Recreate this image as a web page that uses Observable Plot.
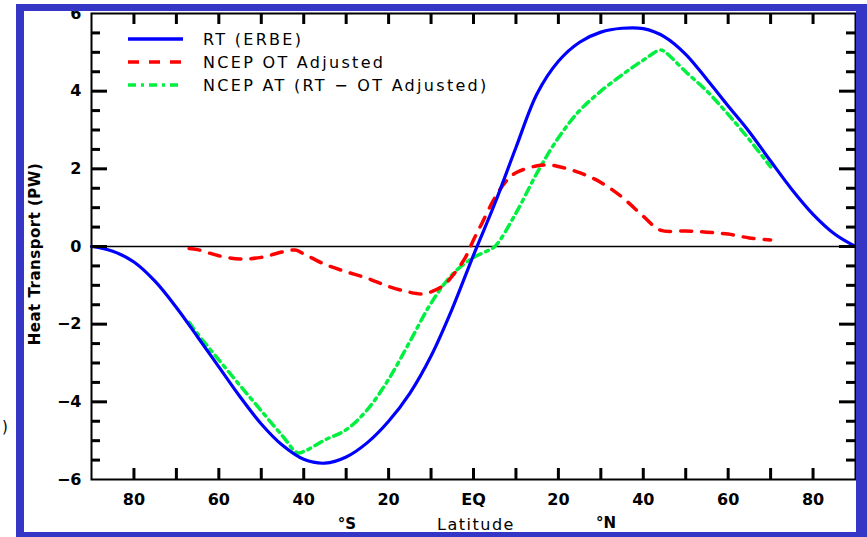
<!DOCTYPE html>
<html><head><meta charset="utf-8">
<script src="https://cdn.jsdelivr.net/npm/d3@7"></script>
<script src="https://cdn.jsdelivr.net/npm/@observablehq/plot@0.6"></script>
<style>
body{margin:0;background:#fff;}
#chart{position:relative;width:867px;height:537px;overflow:hidden;}
#chart svg{display:block;}
</style>
</head><body><div id="chart"></div>
<script>
// RT (ERBE)
const rtLat = [-90,-85,-80,-75,-70,-65,-60,-55,-50,-45,-40,-35,-30,-25,-20,-15,-10,-5,0,5,10,15,20,25,30,35,40,45,50,55,60,65,70,75,80,85,90];
const rtVal = [0,-0.12,-0.4,-0.9,-1.57,-2.33,-3.1,-3.87,-4.57,-5.12,-5.48,-5.58,-5.42,-5.05,-4.5,-3.78,-2.82,-1.6,-0.22,1.1,2.55,3.94,4.77,5.26,5.52,5.62,5.61,5.4,4.95,4.3,3.62,2.95,2.2,1.47,0.83,0.33,0];
// NCEP OT Adjusted
const otLat = [-67,-65,-60,-55,-50,-45,-42,-40,-35,-30,-25,-20,-15,-12,-10,-7,-5,-2,0,2,5,8,10,15,18,20,25,30,35,40,44,50,55,60,65,70];
const otVal = [-0.05,-0.08,-0.24,-0.32,-0.28,-0.14,-0.09,-0.19,-0.46,-0.65,-0.82,-1.03,-1.18,-1.22,-1.17,-1.0,-0.76,-0.3,0.17,0.6,1.25,1.72,1.9,2.08,2.1,2.06,1.9,1.65,1.27,0.78,0.42,0.4,0.37,0.32,0.22,0.17];
// NCEP AT (RT - OT Adjusted)
const atLat = [-67,-65,-60,-55,-50,-45,-41.5,-40,-35,-30,-25,-20,-15,-10,-5,0,2.5,5,10,15,20,25,30,35,40,44,45,50,55,60,65,70];
const atVal = [-1.95,-2.25,-2.92,-3.58,-4.23,-4.88,-5.31,-5.28,-4.98,-4.72,-4.2,-3.42,-2.45,-1.46,-0.72,-0.28,-0.15,0.0,0.86,1.9,2.8,3.5,4.0,4.42,4.8,5.06,5.02,4.5,4.0,3.4,2.75,2.05];

const seriesNames = ["RT (ERBE)", "NCEP OT Adjusted", "NCEP AT (RT \u2212 OT Adjusted)"];
const seriesColors = ["#0000ff", "#ff0000", "#00f040"];
const seriesDash = [null, "11,10", "8,5,3,5"];

const xTicks = [-80,-70,-60,-50,-40,-30,-20,-10,0,10,20,30,40,50,60,70,80];
const xLabelTicks = [-80,-60,-40,-20,0,20,40,60,80];
const yMajor = [-4,-2,0,2,4];
const yMinor = [-5.5,-5,-4.5,-3.5,-3,-2.5,-1.5,-1,-0.5,0.5,1,1.5,2.5,3,3.5,4.5,5,5.5];
const yLabels = [-6,-4,-2,0,2,4,6];

const rt = rtLat.map((x,i)=>({x, y: rtVal[i]}));
const ot = otLat.map((x,i)=>({x, y: otVal[i]}));
const at = atLat.map((x,i)=>({x, y: atVal[i]}));

const xFmt = d => d === 0 ? "EQ" : String(Math.abs(d));
const yFmt = d => d < 0 ? "\u2212" + (-d) : String(d);
const tickFont = {fontSize: 16, fontWeight: "bold", fontFamily: "DejaVu Sans"};

const W = 867, H = 537, mL = 91, mR = 12, mT = 13, mB = 58;
const innerW = W - mL - mR, innerH = H - mT - mB;
const tickStyle = {stroke: "#000", strokeWidth: 3};

const chart = Plot.plot({
  width: W, height: H,
  marginLeft: mL, marginRight: mR, marginTop: mT, marginBottom: mB,
  style: {fontFamily: "DejaVu Sans", background: "transparent", overflow: "visible"},
  x: {domain: [-90, 90]},
  y: {domain: [-6, 6]},
  marks: [
    Plot.ruleY([0], {stroke: "black", strokeWidth: 1.6}),
    Plot.line(at, {x: "x", y: "y", stroke: seriesColors[2], strokeWidth: 3.5, strokeDasharray: seriesDash[2], curve: "catmull-rom"}),
    Plot.line(ot, {x: "x", y: "y", stroke: seriesColors[1], strokeWidth: 3.5, strokeDasharray: seriesDash[1], curve: "catmull-rom"}),
    Plot.line(rt, {x: "x", y: "y", stroke: seriesColors[0], strokeWidth: 3.2, curve: "catmull-rom"}),
    // inward ticks: bottom, top, left, right
    Plot.ruleX(xTicks, {x: d => d, insetTop: innerH - 11, ...tickStyle}),
    Plot.ruleX(xTicks, {x: d => d, insetBottom: innerH - 11, ...tickStyle}),
    Plot.ruleY(yMajor, {y: d => d, insetRight: innerW - 16, ...tickStyle}),
    Plot.ruleY(yMinor, {y: d => d, insetRight: innerW - 9, ...tickStyle}),
    Plot.ruleY(yMajor, {y: d => d, insetLeft: innerW - 16, ...tickStyle}),
    Plot.ruleY(yMinor, {y: d => d, insetLeft: innerW - 9, ...tickStyle}),
    Plot.axisX({anchor: "bottom", ticks: xLabelTicks, tickSize: 0, tickPadding: 14, tickFormat: xFmt, label: null, ...tickFont, fill: "black"}),
    Plot.axisY({anchor: "left", ticks: yLabels, tickSize: 0, tickPadding: 10, tickFormat: yFmt, label: null, ...tickFont, fill: "black"}),
    Plot.frame({stroke: "black", strokeWidth: 2})
  ]
});
document.getElementById("chart").appendChild(chart);

const svg = d3.select(chart);

// Outer blue frame
const border = "#3636c6";
const deco = svg.append("g");
deco.append("rect").attr("x", 16).attr("y", 4).attr("width", 851).attr("height", 7).attr("fill", border);
deco.append("rect").attr("x", 16).attr("y", 4).attr("width", 8).attr("height", 533).attr("fill", border);
deco.append("rect").attr("x", 856).attr("y", 4).attr("width", 11).attr("height", 533).attr("fill", border);
deco.append("rect").attr("x", 16).attr("y", 532).attr("width", 851).attr("height", 5).attr("fill", border);

// Legend
const leg = svg.append("g").attr("font-family", "DejaVu Sans").attr("font-size", 16)
  .attr("letter-spacing", "2.3px").attr("text-anchor", "start");
seriesNames.forEach((name, i) => {
  const yy = 39 + i * 23;
  leg.append("line").attr("x1", 128).attr("x2", 183).attr("y1", yy).attr("y2", yy)
    .attr("stroke", seriesColors[i]).attr("stroke-width", 3.5)
    .attr("stroke-dasharray", seriesDash[i]);
  leg.append("text").attr("x", 203).attr("y", yy).attr("dy", "0.35em").attr("fill", "black").text(name);
});

// Axis titles
const titles = svg.append("g").attr("font-family", "DejaVu Sans").attr("fill", "black");
titles.append("text").attr("transform", "translate(40,254) rotate(-90)").attr("text-anchor", "middle")
  .attr("font-size", 15).attr("font-weight", "bold").attr("letter-spacing", "0.5px").text("Heat Transport (PW)");
titles.append("text").attr("x", 347).attr("y", 529).attr("text-anchor", "middle").attr("font-size", 15).attr("font-weight", "bold").text("\u00B0S");
titles.append("text").attr("x", 606).attr("y", 528).attr("text-anchor", "middle").attr("font-size", 15).attr("font-weight", "bold").text("\u00B0N");
titles.append("text").attr("x", 476).attr("y", 530).attr("text-anchor", "middle").attr("font-size", 16).attr("letter-spacing", "1.5px").text("Latitude");
titles.append("text").attr("x", 2).attr("y", 432).attr("text-anchor", "start").attr("font-size", 15).text(")");
</script>
</body></html>
